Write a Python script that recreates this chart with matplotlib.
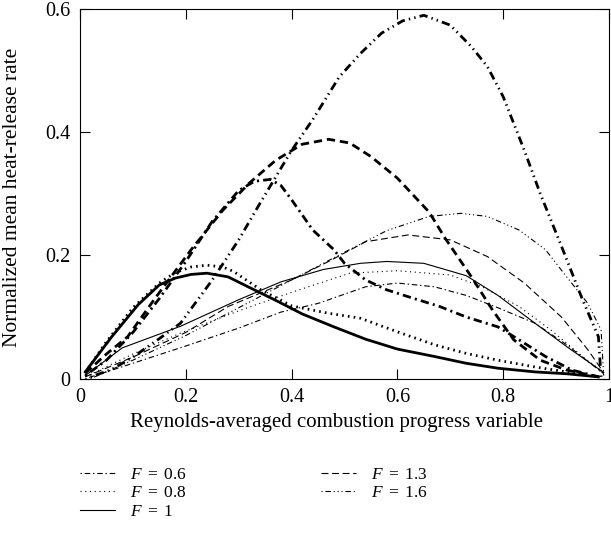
import matplotlib
matplotlib.use("Agg")
import matplotlib.pyplot as plt

plt.rcParams['font.family'] = ['Liberation Serif', 'DejaVu Serif']
plt.rcParams['mathtext.fontset'] = 'custom'
plt.rcParams['mathtext.it'] = 'Liberation Serif:italic'
plt.rcParams['mathtext.rm'] = 'Liberation Serif'
plt.rcParams['lines.scale_dashes'] = False

# F values and legend labels
F_values = [0.6, 0.8, 1, 1.3, 1.6]
labels = [r"$F\ =\ 0.6$", r"$F\ =\ 0.8$", r"$F\ =\ 1$", r"$F\ =\ 1.3$", r"$F\ =\ 1.6$"]

# thin curves
x_thin_06 = [0.01, 0.1, 0.2, 0.3, 0.38, 0.45, 0.54, 0.6, 0.67, 0.73, 0.79, 0.86, 0.92, 0.99]
y_thin_06 = [0.0, 0.025, 0.053, 0.082, 0.108, 0.122, 0.149, 0.155, 0.149, 0.135, 0.115, 0.09, 0.055, 0.008]
x_thin_08 = [0.01, 0.1, 0.19, 0.3, 0.4, 0.51, 0.6, 0.7, 0.76, 0.83, 0.89, 0.95, 0.99]
y_thin_08 = [0.003, 0.04, 0.074, 0.11, 0.14, 0.171, 0.175, 0.168, 0.149, 0.117, 0.079, 0.036, 0.01]
x_thin_10 = [0.01, 0.08, 0.19, 0.3, 0.38, 0.46, 0.53, 0.58, 0.65, 0.73, 0.79, 0.86, 0.92, 0.99]
y_thin_10 = [0.005, 0.05, 0.085, 0.128, 0.157, 0.177, 0.187, 0.19, 0.187, 0.167, 0.135, 0.09, 0.052, 0.01]
x_thin_13 = [0.01, 0.1, 0.2, 0.28, 0.4, 0.47, 0.54, 0.62, 0.7, 0.77, 0.84, 0.91, 0.96, 0.99]
y_thin_13 = [0.003, 0.035, 0.075, 0.117, 0.16, 0.19, 0.222, 0.233, 0.225, 0.198, 0.155, 0.1, 0.047, 0.01]
x_thin_16 = [0.02, 0.1, 0.2, 0.3, 0.4, 0.5, 0.58, 0.66, 0.72, 0.77, 0.83, 0.88, 0.92, 0.96, 0.985, 0.99]
y_thin_16 = [0.0, 0.03, 0.07, 0.115, 0.16, 0.205, 0.24, 0.263, 0.268, 0.263, 0.241, 0.209, 0.165, 0.122, 0.079, 0.005]

# thick curves
x_thick_06 = [0.01, 0.05, 0.1, 0.15, 0.2, 0.25, 0.3, 0.33, 0.36, 0.38, 0.4, 0.44, 0.48, 0.5, 0.54, 0.58, 0.62, 0.68, 0.73, 0.79, 0.83, 0.88, 0.93, 0.98]
y_thick_06 = [0.005, 0.03, 0.075, 0.13, 0.19, 0.255, 0.305, 0.32, 0.323, 0.313, 0.29, 0.241, 0.209, 0.187, 0.16, 0.144, 0.133, 0.117, 0.1, 0.084, 0.063, 0.036, 0.014, 0.003]
x_thick_08 = [0.01, 0.05, 0.1, 0.15, 0.18, 0.21, 0.24, 0.27, 0.29, 0.34, 0.4, 0.47, 0.53, 0.6, 0.67, 0.73, 0.79, 0.86, 0.92, 0.98]
y_thick_08 = [0.01, 0.06, 0.115, 0.155, 0.172, 0.181, 0.184, 0.181, 0.174, 0.145, 0.118, 0.106, 0.098, 0.076, 0.055, 0.041, 0.03, 0.019, 0.011, 0.003]
x_thick_10 = [0.01, 0.06, 0.11, 0.15, 0.18, 0.21, 0.24, 0.28, 0.32, 0.37, 0.42, 0.48, 0.54, 0.6, 0.67, 0.73, 0.79, 0.86, 0.92, 0.98]
y_thick_10 = [0.011, 0.068, 0.12, 0.152, 0.163, 0.169, 0.171, 0.165, 0.148, 0.127, 0.105, 0.084, 0.064, 0.048, 0.036, 0.025, 0.017, 0.011, 0.008, 0.003]
x_thick_13 = [0.01, 0.05, 0.09, 0.14, 0.21, 0.27, 0.32, 0.37, 0.42, 0.47, 0.51, 0.55, 0.6, 0.66, 0.69, 0.74, 0.78, 0.82, 0.87, 0.92, 0.98]
y_thick_13 = [0.009, 0.04, 0.068, 0.128, 0.209, 0.273, 0.317, 0.354, 0.38, 0.388, 0.382, 0.36, 0.325, 0.27, 0.228, 0.165, 0.111, 0.063, 0.03, 0.014, 0.003]
x_thick_16 = [0.02, 0.06, 0.1, 0.15, 0.19, 0.25, 0.3, 0.34, 0.37, 0.4, 0.44, 0.49, 0.53, 0.57, 0.61, 0.65, 0.7, 0.74, 0.77, 0.8, 0.84, 0.87, 0.91, 0.95, 0.98, 0.985]
y_thick_16 = [0.003, 0.015, 0.035, 0.065, 0.09, 0.16, 0.225, 0.284, 0.327, 0.37, 0.42, 0.489, 0.527, 0.56, 0.58, 0.589, 0.573, 0.538, 0.506, 0.457, 0.37, 0.3, 0.215, 0.128, 0.068, 0.003]

x_ticks = [0, 0.2, 0.4, 0.6, 0.8, 1]
x_ticklabels = ["0", "0.2", "0.4", "0.6", "0.8", "1"]
y_ticks = [0, 0.2, 0.4, 0.6]
y_ticklabels = ["0", "0.2", "0.4", "0.6"]

thin_x = [x_thin_06, x_thin_08, x_thin_10, x_thin_13, x_thin_16]
thin_y = [y_thin_06, y_thin_08, y_thin_10, y_thin_13, y_thin_16]
thick_x = [x_thick_06, x_thick_08, x_thick_10, x_thick_13, x_thick_16]
thick_y = [y_thick_06, y_thick_08, y_thick_10, y_thick_13, y_thick_16]

# dash patterns (points) for each F
thin_dash = [(1, 2, 4, 2), (0.8, 2.6), None, (5, 2.6), (0.8, 2, 4, 2, 0.8, 2, 0.8, 2)]
thick_dash = [(1.5, 3, 6, 3), (1.2, 3), None, (6, 3.5), (1, 3, 6, 3, 1, 3)]

fig = plt.figure(figsize=(6.11, 5.42), dpi=100)
ax = fig.add_axes([80 / 611, 1 - 378.7 / 542, 529 / 611, 370.2 / 542])

handles = []
for i in range(len(F_values)):
    ln, = ax.plot(thin_x[i], thin_y[i], color='black', lw=0.8, label=labels[i])
    if thin_dash[i] is not None:
        ln.set_dashes(thin_dash[i])
    handles.append(ln)
    lk, = ax.plot(thick_x[i], thick_y[i], color='black', lw=2.0)
    if thick_dash[i] is not None:
        lk.set_dashes(thick_dash[i])

ax.set_xlim(0, 1)
ax.set_ylim(0, 0.6)
ax.set_xticks(x_ticks)
ax.set_xticklabels(x_ticklabels)
ax.set_yticks(y_ticks)
ax.set_yticklabels(y_ticklabels)
ax.tick_params(direction='in', length=7.2, width=0.8, top=True, right=True,
               labelsize=14.5, pad=7)
for s in ax.spines.values():
    s.set_linewidth(0.8)

ax.set_xlabel("Reynolds-averaged combustion progress variable", fontsize=15)
ax.xaxis.set_label_coords(0.484, -0.093)
ax.set_ylabel("Normalized mean heat-release rate", fontsize=15.5)
ax.yaxis.set_label_coords(-0.11, 0.49)

fig.legend(handles=handles, labels=labels, loc='upper left',
           bbox_to_anchor=(80 / 611, 1 - 467 / 542), ncol=2, frameon=False,
           fontsize=12.5, handlelength=2.0, handletextpad=0.9, columnspacing=7.7,
           labelspacing=0.12, borderpad=0, borderaxespad=0)

fig.savefig("out.png", dpi=100)
